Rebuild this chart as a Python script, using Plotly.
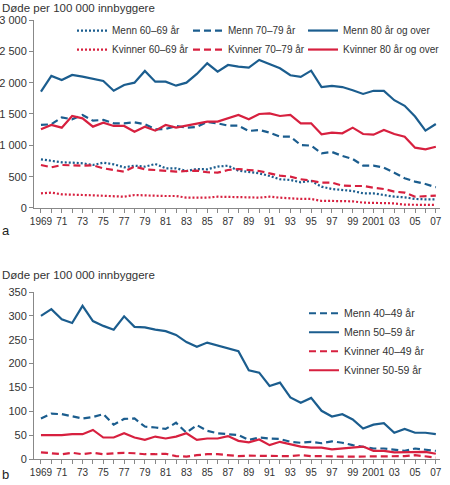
import plotly.graph_objects as go

years = list(range(1969, 2008))
year_labels = ['1969' if y == 1969 else ('2001' if y == 2001 else str(y)[2:]) if y % 2 == 1 else ''
               for y in years]

# a: deaths per 100 000, 60 years and over
menn_60_69 = [777, 750, 729, 723, 713, 686, 723, 697, 649, 675,
              660, 702, 633, 633, 590, 622, 617, 660, 675, 595,
              570, 553, 511, 458, 447, 410, 431, 340, 303, 287,
              271, 234, 234, 207, 180, 170, 144, 138, 138]
menn_70_79 = [1325, 1336, 1447, 1415, 1484, 1394, 1405, 1351, 1351, 1367,
              1336, 1256, 1261, 1309, 1282, 1293, 1373, 1351, 1314, 1314,
              1229, 1245, 1202, 1138, 1138, 1005, 995, 873, 894, 830,
              782, 675, 675, 643, 563, 474, 420, 383, 330]
menn_80 = [1856, 2107, 2043, 2123, 2096, 2064, 2027, 1872, 1963, 2000,
           2187, 2016, 2016, 1952, 2000, 2139, 2309, 2176, 2282, 2256,
           2240, 2362, 2298, 2230, 2118, 2091, 2192, 1930, 1950, 1930,
           1880, 1820, 1870, 1870, 1720, 1630, 1460, 1235, 1340]
kvinner_60_69 = [234, 245, 218, 207, 207, 202, 196, 191, 180, 207,
                 196, 196, 191, 191, 165, 160, 165, 180, 180, 175,
                 170, 165, 180, 165, 149, 144, 144, 112, 112, 112,
                 106, 85, 85, 74, 74, 53, 53, 48, 48]
kvinner_70_79 = [686, 649, 686, 675, 675, 681, 633, 606, 580, 660,
                 617, 606, 596, 580, 590, 596, 570, 564, 606, 622,
                 606, 590, 553, 516, 500, 458, 436, 404, 404, 356,
                 351, 351, 324, 303, 261, 245, 180, 191, 196]
kvinner_80 = [1256, 1325, 1282, 1468, 1430, 1298, 1362, 1309, 1309, 1218,
              1298, 1234, 1325, 1282, 1314, 1346, 1378, 1378, 1431, 1484,
              1415, 1500, 1510, 1468, 1484, 1351, 1351, 1176, 1202, 1192,
              1282, 1181, 1170, 1245, 1181, 1138, 962, 937, 978]

# b: deaths per 100 000, 40-59 years
menn_40_49 = [85, 95, 94, 90, 85, 88, 94, 72, 84, 85,
              68, 66, 63, 76, 55, 71, 59, 54, 52, 50,
              40, 45, 43, 42, 36, 34, 36, 33, 37, 34,
              29, 26, 22, 22, 20, 17, 22, 19, 17]
menn_50_59 = [300, 314, 293, 285, 321, 289, 279, 271, 299, 277,
              276, 271, 268, 260, 245, 235, 244, 238, 233, 226,
              186, 181, 153, 160, 129, 118, 128, 101, 89, 94,
              83, 64, 72, 75, 55, 63, 55, 55, 52]
kvinner_40_49 = [14, 12, 10, 13, 10, 13, 10, 12, 13, 12,
                 10, 10, 11, 6, 5, 8, 10, 10, 8, 6,
                 7, 7, 6, 6, 6, 8, 6, 6, 5, 5,
                 5, 5, 6, 5, 5, 6, 8, 6, 3]
kvinner_50_59 = [50, 50, 50, 52, 52, 61, 45, 45, 54, 45,
                 40, 47, 43, 47, 54, 40, 43, 43, 48, 38,
                 35, 41, 29, 36, 31, 26, 24, 24, 20, 22,
                 24, 26, 17, 17, 14, 14, 14, 15, 11]

ticks_a = [0, 500, 1000, 1500, 2000, 2500, 3000]
ticklabels_a = ['0', '500', '1 000', '1 500', '2 000', '2 500', '3 000']
ticks_b = [0, 50, 100, 150, 200, 250, 300, 350]

BLUE = '#1b5d8e'
RED = '#d7203f'
DOT = '2px,2px'
DASH = '7px,4px'

fig = go.Figure()

# top chart, three legend columns
series_a = [
    ('Menn 60–69 år', menn_60_69, BLUE, DOT, 'legend'),
    ('Kvinner 60–69 år', kvinner_60_69, RED, DOT, 'legend'),
    ('Menn 70–79 år', menn_70_79, BLUE, DASH, 'legend2'),
    ('Kvinner 70–79 år', kvinner_70_79, RED, DASH, 'legend2'),
    ('Menn 80 år og over', menn_80, BLUE, 'solid', 'legend3'),
    ('Kvinner 80 år og over', kvinner_80, RED, 'solid', 'legend3'),
]
for name, vals, col, dash, leg in series_a:
    fig.add_trace(go.Scatter(x=years, y=vals, name=name, mode='lines',
                             line=dict(color=col, width=2.2, dash=dash),
                             xaxis='x', yaxis='y', legend=leg))

series_b = [
    ('Menn 40–49 år', menn_40_49, BLUE, DASH),
    ('Menn 50–59 år', menn_50_59, BLUE, 'solid'),
    ('Kvinner 40–49 år', kvinner_40_49, RED, DASH),
    ('Kvinner 50-59 år', kvinner_50_59, RED, 'solid'),
]
for name, vals, col, dash in series_b:
    fig.add_trace(go.Scatter(x=years, y=vals, name=name, mode='lines',
                             line=dict(color=col, width=2.2, dash=dash),
                             xaxis='x2', yaxis='y2', legend='legend4'))

axis_common = dict(showline=True, linecolor='#888', linewidth=1,
                   ticks='outside', ticklen=4, tickcolor='#888',
                   showgrid=False, zeroline=False,
                   tickfont=dict(size=11, color='#333'))

x_common = dict(axis_common, range=[1968.33, 2007.4], tickvals=years,
                ticktext=year_labels, tickangle=0,
                tickfont=dict(size=10, color='#333'))

leg_common = dict(bgcolor='rgba(0,0,0,0)', xanchor='left',
                  yanchor='top', traceorder='normal',
                  font=dict(size=10, color='#333', family='Liberation Sans'))

fig.update_layout(
    width=450, height=485,
    margin=dict(l=34, r=10, t=20, b=26, autoexpand=False),
    paper_bgcolor='white', plot_bgcolor='white',
    font=dict(family='Liberation Sans', color='#333'),
    xaxis=dict(x_common, domain=[0, 1], anchor='y'),
    yaxis=dict(axis_common, domain=[0.5718, 1], range=[0, 3000],
               tickvals=ticks_a, ticktext=ticklabels_a, anchor='x'),
    xaxis2=dict(x_common, domain=[0, 1], anchor='y2'),
    yaxis2=dict(axis_common, domain=[0, 0.3804], range=[0, 350],
                tickvals=ticks_b, anchor='x2'),
    legend=dict(leg_common, x=0.0936, y=1.009),
    legend2=dict(leg_common, x=0.3793, y=1.009),
    legend3=dict(leg_common, x=0.6626, y=1.009),
    legend4=dict(leg_common, x=0.665, y=0.365,
                 font=dict(size=10.5, color='#333', family='Liberation Sans')),
    annotations=[
        dict(text='Døde per 100 000 innbyggere', xref='paper', yref='paper',
             x=-0.084, y=1.027, xanchor='left', yanchor='middle',
             showarrow=False, font=dict(size=11.5, color='#333')),
        dict(text='Døde per 100 000 innbyggere', xref='paper', yref='paper',
             x=-0.084, y=0.419, xanchor='left', yanchor='middle',
             showarrow=False, font=dict(size=11.5, color='#333')),
        dict(text='a', xref='paper', yref='paper', x=-0.084, y=0.52,
             xanchor='left', yanchor='middle', showarrow=False,
             font=dict(size=13, color='#222')),
        dict(text='b', xref='paper', yref='paper', x=-0.084, y=-0.035,
             xanchor='left', yanchor='middle', showarrow=False,
             font=dict(size=13, color='#222')),
    ],
)

# drop the default 8px page margin so the 450x485 figure fills the window
fig.write_html("out.html", config={'displayModeBar': False},
               post_script="document.body.style.margin = '0';")
